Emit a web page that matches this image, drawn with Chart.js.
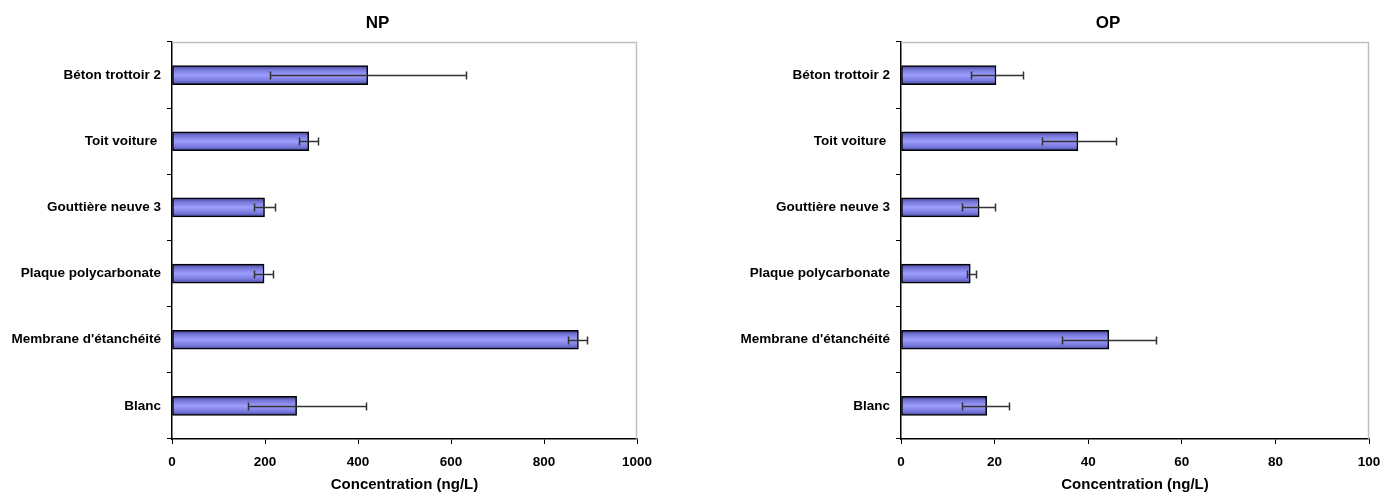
<!DOCTYPE html>
<html>
<head>
<meta charset="utf-8">
<script src="https://cdn.jsdelivr.net/npm/chart.js@4/dist/chart.umd.min.js"></script>
<style>
	html, body { margin: 0; padding: 0; background: #fff; overflow: hidden; }
	.panel { position: absolute; top: 0; height: 494px; }
	#panelNP { left: 0; width: 691px; }
	#panelOP { left: 691px; width: 692px; }
</style>
</head>
<body>
<div class="panel" id="panelNP"><canvas id="chartNP"></canvas></div>
<div class="panel" id="panelOP"><canvas id="chartOP"></canvas></div>
<script>
'use strict'

// categories, top to bottom
const categories = ['Béton trottoir 2', 'Toit voiture ', 'Gouttière neuve 3', 'Plaque polycarbonate', "Membrane d'étanchéité", 'Blanc'];

// NP (ng/L)
const npValues = [421, 294, 199, 198, 874, 268];
const npLow = [210, 274, 177, 176, 852, 164];
const npHigh = [632, 315, 221, 218, 893, 418];

// OP (ng/L)
const opValues = [20.3, 37.8, 16.7, 14.8, 44.4, 18.3];
const opLow = [15.0, 30.1, 13.0, 14.0, 34.3, 13.0];
const opHigh = [26.0, 46.0, 20.0, 16.0, 54.4, 23.0];

const npTicks = [0, 200, 400, 600, 800, 1000];
const opTicks = [0, 20, 40, 60, 80, 100];

const FONT = "'Liberation Sans', Arial, sans-serif";
const BAR_H = 19;

// vertical shading of each bar, like the old office gradient fill
function barFill(ctx) {
	const chart = ctx.chart;
	const yScale = chart.scales.y;
	if (!yScale || ctx.dataIndex === undefined) return '#9999ff';
	const yc = yScale.getPixelForValue(ctx.dataIndex);
	if (!isFinite(yc)) return '#9999ff';
	const g = chart.ctx.createLinearGradient(0, yc - BAR_H / 2, 0, yc + BAR_H / 2);
	g.addColorStop(0, '#3d3d8a');
	g.addColorStop(0.2, '#7474d6');
	g.addColorStop(0.5, '#9e9eff');
	g.addColorStop(0.8, '#7878dc');
	g.addColorStop(1, '#45459a');
	return g;
}

const errorBars = {
	id: 'errorBars',
	afterDatasetsDraw(chart, args, opts) {
		const c = chart.ctx;
		const x = chart.scales.x, y = chart.scales.y;
		c.save();
		c.strokeStyle = '#333';
		c.lineWidth = 1.5;
		opts.low.forEach((lo, i) => {
			const yc = Math.round(y.getPixelForValue(i)) + 0.5;
			const x0 = Math.round(x.getPixelForValue(lo)) + 0.5;
			const x1 = Math.round(x.getPixelForValue(opts.high[i])) + 0.5;
			c.beginPath();
			c.moveTo(x0, yc); c.lineTo(x1, yc);
			c.moveTo(x0, yc - 4); c.lineTo(x0, yc + 4);
			c.moveTo(x1, yc - 4); c.lineTo(x1, yc + 4);
			c.stroke();
		});
		c.restore();
	}
};

// light grey frame on top and right, plus the panel title
const frame = {
	id: 'frame',
	beforeDatasetsDraw(chart) {
		const a = chart.chartArea, c = chart.ctx;
		c.save();
		c.strokeStyle = '#c0c0c0';
		c.lineWidth = 1.5;
		c.beginPath();
		c.moveTo(a.left, a.top + 0.5);
		c.lineTo(a.right - 0.5, a.top + 0.5);
		c.lineTo(a.right - 0.5, a.bottom);
		c.stroke();
		c.restore();
	},
	afterDraw(chart, args, opts) {
		const a = chart.chartArea, c = chart.ctx;
		c.save();
		c.fillStyle = '#000';
		c.font = 'bold 17px ' + FONT;
		c.textAlign = 'center';
		c.textBaseline = 'middle';
		c.fillText(opts.text, (a.left + a.right) / 2 - 27, 23);
		c.restore();
	}
};

function makeChart(id, title, values, low, high, ticks, yWidth, padRight) {
	return new Chart(document.getElementById(id), {
		type: 'bar',
		data: {
			labels: categories,
			datasets: [{
				data: values,
				backgroundColor: barFill,
				borderColor: '#000',
				borderWidth: 1.5,
				borderSkipped: false,
				barThickness: BAR_H,
			}],
		},
		plugins: [errorBars, frame],
		options: {
			indexAxis: 'y',
			responsive: true,
			maintainAspectRatio: false,
			animation: false,
			layout: { padding: { top: 42, right: padRight, left: 0, bottom: 0 } },
			plugins: {
				legend: { display: false },
				tooltip: { enabled: false },
				errorBars: { low: low, high: high },
				frame: { text: title },
			},
			scales: {
				x: {
					min: ticks[0],
					max: ticks[ticks.length - 1],
					afterBuildTicks(scale) { scale.ticks = ticks.map(v => ({ value: v })); },
					afterFit(scale) {
						scale.height = 55;
						scale.paddingRight = 0;
						scale.paddingLeft = 0;
					},
					grid: { drawOnChartArea: false, tickLength: 5, color: '#000' },
					border: { color: '#000', width: 1.5 },
					ticks: {
						color: '#000',
						padding: 10,
						callback: v => String(v),
						font: { family: FONT, size: 13.5, weight: 'bold' },
					},
					title: {
						display: true,
						text: 'Concentration (ng/L)',
						color: '#000',
						padding: { top: 0, bottom: 0 },
						font: { family: FONT, size: 15, weight: 'bold' },
					},
				},
				y: {
					offset: true,
					afterFit(scale) { scale.width = yWidth; },
					grid: { drawOnChartArea: false, offset: true, tickLength: 5, color: '#000' },
					border: { color: '#000', width: 1.5 },
					ticks: { color: '#000', padding: 6, autoSkip: false, font: { family: FONT, size: 13.5, weight: 'bold' } },
				},
			},
		},
	});
}

makeChart('chartNP', 'NP', npValues, npLow, npHigh, npTicks, 172, 54);
makeChart('chartOP', 'OP', opValues, opLow, opHigh, opTicks, 210, 14);
</script>
</body>
</html>
